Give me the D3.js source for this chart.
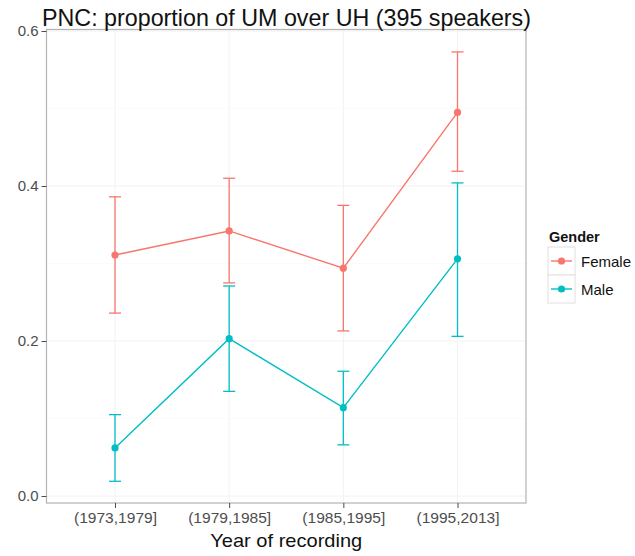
<!DOCTYPE html>
<html>
<head>
<meta charset="utf-8">
<script src="https://cdn.jsdelivr.net/npm/d3@7"></script>
<style>
  html, body { margin: 0; padding: 0; background: #fff; }
  svg { display: block; font-family: "Liberation Sans", Arial, sans-serif; }
</style>
</head>
<body>
<svg id="chart" width="635" height="556"></svg>
<script>
// Recording-year bins on the x axis
const periods = ["(1973,1979]", "(1979,1985]", "(1985,1995]", "(1995,2013]"];
const genders = ["Female", "Male"];

// Proportion of UM over UH, with lower/upper interval bounds
const femaleMean  = [0.311, 0.342, 0.294, 0.495];
const femaleLower = [0.236, 0.275, 0.213, 0.419];
const femaleUpper = [0.386, 0.410, 0.375, 0.573];
const maleMean    = [0.062, 0.203, 0.114, 0.306];
const maleLower   = [0.019, 0.135, 0.066, 0.206];
const maleUpper   = [0.105, 0.271, 0.161, 0.404];

const yTicks = [0.0, 0.2, 0.4, 0.6];
const yMinor = [0.1, 0.3, 0.5];

const colors = { Female: "#F8766D", Male: "#00BFC4" };

const series = [
  { gender: "Female", mean: femaleMean, lower: femaleLower, upper: femaleUpper },
  { gender: "Male",   mean: maleMean,   lower: maleLower,   upper: maleUpper }
];

const svg = d3.select("#chart");
const panel = { left: 46.5, right: 526, top: 29.5, bottom: 503 };

const x = d3.scalePoint().domain(periods)
  .range([panel.left, panel.right]).padding(0.6);
const y = d3.scaleLinear().domain([0, 0.6]).range([496, 31]);

// Panel background and grid
svg.append("rect")
  .attr("x", panel.left).attr("y", panel.top)
  .attr("width", panel.right - panel.left).attr("height", panel.bottom - panel.top)
  .attr("fill", "#fff");

const grid = svg.append("g");
grid.selectAll("line.minor").data(yMinor).join("line")
  .attr("x1", panel.left).attr("x2", panel.right)
  .attr("y1", d => y(d)).attr("y2", d => y(d))
  .attr("stroke", "#fafafa").attr("stroke-width", 0.8);
grid.selectAll("line.majorY").data(yTicks).join("line")
  .attr("x1", panel.left).attr("x2", panel.right)
  .attr("y1", d => y(d)).attr("y2", d => y(d))
  .attr("stroke", "#f2f2f2").attr("stroke-width", 1);
grid.selectAll("line.majorX").data(periods).join("line")
  .attr("x1", d => x(d)).attr("x2", d => x(d))
  .attr("y1", panel.top).attr("y2", panel.bottom)
  .attr("stroke", "#f2f2f2").attr("stroke-width", 1);

// Series: error bars, connecting lines, points
const line = d3.line().x((d, i) => x(periods[i])).y(d => y(d));
const capHalf = 6;

series.forEach(s => {
  const g = svg.append("g");
  const col = colors[s.gender];
  periods.forEach((p, i) => {
    const cx = x(p);
    g.append("line")
      .attr("x1", cx).attr("x2", cx)
      .attr("y1", y(s.lower[i])).attr("y2", y(s.upper[i]))
      .attr("stroke", col).attr("stroke-width", 1.3);
    [s.lower[i], s.upper[i]].forEach(v => {
      g.append("line")
        .attr("x1", cx - capHalf).attr("x2", cx + capHalf)
        .attr("y1", y(v)).attr("y2", y(v))
        .attr("stroke", col).attr("stroke-width", 1.3);
    });
  });
  g.append("path").datum(s.mean)
    .attr("d", line)
    .attr("fill", "none").attr("stroke", col).attr("stroke-width", 1.4);
  g.selectAll("circle").data(s.mean).join("circle")
    .attr("cx", (d, i) => x(periods[i])).attr("cy", d => y(d))
    .attr("r", 3.6).attr("fill", col);
});

// Panel border
svg.append("rect")
  .attr("x", panel.left).attr("y", panel.top)
  .attr("width", panel.right - panel.left).attr("height", panel.bottom - panel.top)
  .attr("fill", "none").attr("stroke", "#b3b3b3").attr("stroke-width", 1.2);

// Axes
const yAxis = svg.append("g")
  .attr("transform", `translate(${panel.left},0)`)
  .call(d3.axisLeft(y).tickValues(yTicks).tickFormat(d3.format(".1f")).tickSize(5).tickPadding(3));
yAxis.select(".domain").remove();
yAxis.selectAll(".tick line").attr("stroke", "#4d4d4d").attr("stroke-width", 1);
yAxis.selectAll(".tick text").attr("fill", "#4d4d4d").style("font-size", "15px");

const xAxis = svg.append("g")
  .attr("transform", `translate(0,${panel.bottom})`)
  .call(d3.axisBottom(x).tickSize(5).tickPadding(4));
xAxis.select(".domain").remove();
xAxis.selectAll(".tick line").attr("stroke", "#4d4d4d").attr("stroke-width", 1);
xAxis.selectAll(".tick text").attr("fill", "#4d4d4d").style("font-size", "15px")
  .attr("textLength", 83).attr("lengthAdjust", "spacingAndGlyphs");

// Titles
svg.append("text")
  .attr("x", 42).attr("y", 26)
  .style("font-size", "24px").attr("fill", "#111")
  .attr("textLength", 489).attr("lengthAdjust", "spacingAndGlyphs")
  .text("PNC: proportion of UM over UH (395 speakers)");

svg.append("text")
  .attr("x", (panel.left + panel.right) / 2).attr("y", 547)
  .attr("text-anchor", "middle")
  .style("font-size", "19px").attr("fill", "#111")
  .attr("textLength", 152).attr("lengthAdjust", "spacingAndGlyphs")
  .text("Year of recording");

// Legend
const legend = svg.append("g").attr("transform", "translate(548,0)");
legend.append("text")
  .attr("x", 1).attr("y", 242)
  .style("font-size", "14.5px").style("font-weight", "bold").attr("fill", "#111")
  .text("Gender");
genders.forEach((gname, i) => {
  const ky = 247 + i * 28;
  const row = legend.append("g").attr("transform", `translate(0,${ky})`);
  row.append("rect").attr("x", 0).attr("y", 0).attr("width", 27).attr("height", 28)
    .attr("fill", "#fff").attr("stroke", "#e0e0e0").attr("stroke-width", 1);
  row.append("line").attr("x1", 3).attr("x2", 24).attr("y1", 14).attr("y2", 14)
    .attr("stroke", colors[gname]).attr("stroke-width", 1.4);
  row.append("circle").attr("cx", 13.5).attr("cy", 14).attr("r", 3.6).attr("fill", colors[gname]);
  row.append("text").attr("x", 33).attr("y", 20)
    .style("font-size", "15px").attr("fill", "#111").text(gname);
});
</script>
</body>
</html>
